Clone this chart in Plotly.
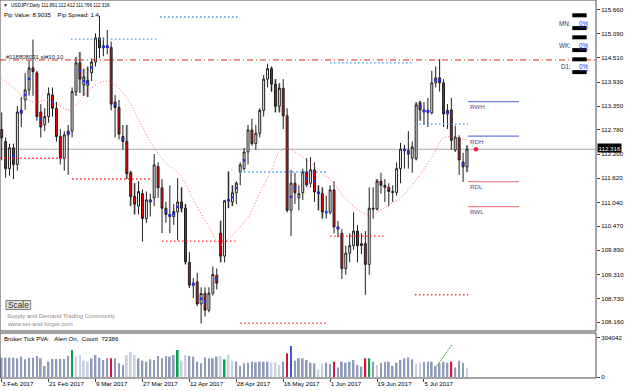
import plotly.graph_objects as go
import pandas as pd

# ---------------- data ----------------
dates = pd.bdate_range("2017-02-03", periods=120)

o = [112.79, 112.50, 111.85, 112.35, 111.95, 113.25, 113.50, 113.74, 114.27, 114.15,
     113.21, 112.90, 113.10, 113.62, 113.30, 112.62, 112.10, 112.66, 112.75, 113.70,
     114.39, 113.86, 113.85, 114.15, 114.41, 114.99, 114.75, 114.80, 114.76, 113.45,
     113.32, 112.62, 112.50, 111.75, 111.18, 110.95, 111.25, 110.65, 111.10, 111.15,
     111.90, 111.39, 110.90, 110.75, 110.70, 110.81, 111.05, 110.90, 109.60, 109.05,
     109.13, 108.60, 108.86, 108.45, 108.86, 109.29, 110.30, 109.75, 111.08, 111.05,
     111.27, 111.77, 111.85, 112.25, 112.78, 112.45, 112.70, 113.25, 114.00, 114.25,
     113.88, 113.35, 113.78, 113.12, 110.85, 111.50, 111.15, 111.27, 111.77, 111.50,
     111.82, 111.29, 111.25, 110.81, 110.80, 111.34, 110.45, 110.30, 109.45, 109.82,
     110.00, 110.35, 110.00, 110.05, 109.55, 110.90, 110.88, 111.55, 111.45, 111.40,
     111.30, 111.28, 111.85, 112.32, 112.28, 112.10, 112.10, 113.43, 113.26, 113.20,
     113.19, 113.91, 114.03, 113.91, 113.16, 113.26, 112.30, 112.59, 112.01, 111.891]
h = [113.20, 112.60, 112.45, 112.45, 113.35, 113.57, 114.15, 114.45, 114.95, 114.20,
     113.40, 113.30, 113.80, 113.80, 113.45, 112.80, 112.75, 112.90, 113.80, 114.53,
     114.65, 114.25, 114.30, 114.50, 115.10, 115.52, 115.00, 115.18, 114.90, 113.62,
     113.50, 112.90, 112.90, 111.80, 111.50, 111.55, 111.35, 111.30, 111.25, 112.20,
     112.00, 111.60, 111.05, 111.45, 111.00, 111.62, 111.40, 111.00, 109.85, 109.22,
     109.35, 109.00, 109.00, 109.00, 109.50, 109.45, 110.60, 111.10, 111.78, 111.45,
     111.55, 112.00, 112.35, 112.90, 113.05, 112.90, 113.30, 114.10, 114.37, 114.30,
     114.00, 113.90, 114.00, 113.30, 111.82, 111.75, 111.45, 111.85, 112.10, 112.13,
     112.00, 111.45, 111.40, 111.20, 111.45, 111.55, 110.60, 110.40, 110.00, 110.30,
     110.80, 110.50, 110.30, 110.35, 111.40, 111.40, 111.60, 111.75, 111.60, 111.50,
     111.45, 112.00, 112.47, 112.42, 112.75, 112.50, 113.45, 113.48, 113.45, 113.55,
     114.20, 114.30, 114.48, 114.00, 113.40, 113.55, 112.88, 112.65, 112.23, 112.412]
l = [112.05, 111.63, 111.68, 111.60, 111.80, 112.85, 113.26, 113.60, 113.60, 113.00,
     112.60, 112.75, 112.95, 113.10, 112.50, 111.95, 111.80, 111.70, 112.60, 113.60,
     113.67, 113.60, 113.57, 113.95, 114.30, 114.50, 114.55, 114.60, 113.25, 112.60,
     112.55, 112.30, 111.60, 110.95, 110.75, 110.75, 110.10, 110.55, 110.70, 110.95,
     111.15, 110.30, 110.55, 110.30, 110.50, 110.13, 110.80, 109.55, 108.98, 108.74,
     108.55, 108.13, 108.30, 108.40, 108.80, 108.95, 109.60, 109.60, 110.90, 110.95,
     111.00, 111.45, 111.80, 111.95, 112.40, 112.30, 112.60, 113.10, 113.80, 113.70,
     113.20, 113.20, 112.80, 110.80, 110.23, 111.00, 110.85, 111.10, 111.40, 111.40,
     111.05, 110.85, 110.65, 110.65, 110.75, 110.30, 110.20, 109.20, 109.30, 109.60,
     109.90, 109.60, 109.80, 108.82, 109.30, 110.65, 110.85, 111.25, 111.05, 110.95,
     111.05, 111.20, 111.50, 111.85, 111.85, 111.75, 112.05, 113.00, 112.90, 112.85,
     113.15, 113.80, 113.70, 112.85, 112.80, 112.30, 112.25, 111.70, 111.53, 111.766]
c = [112.59, 111.85, 112.35, 111.95, 113.21, 113.18, 113.74, 114.27, 114.18, 113.10,
     112.85, 113.10, 113.65, 113.30, 112.62, 112.10, 112.66, 112.75, 113.70, 114.39,
     114.00, 114.05, 113.97, 114.41, 114.99, 114.75, 114.80, 114.76, 113.40, 113.32,
     112.68, 112.50, 111.73, 111.18, 111.00, 111.30, 110.65, 111.10, 111.05, 111.94,
     111.39, 110.90, 110.75, 110.70, 110.82, 111.05, 110.90, 109.62, 109.05, 109.10,
     108.60, 108.85, 108.45, 108.86, 109.31, 109.10, 109.75, 111.08, 111.10, 111.27,
     111.50, 111.94, 112.25, 112.78, 112.45, 112.70, 113.25, 114.00, 114.25, 113.88,
     113.35, 113.78, 113.12, 110.85, 111.50, 111.27, 111.25, 111.77, 111.46, 111.82,
     111.29, 111.25, 110.81, 110.80, 111.34, 110.45, 110.40, 109.45, 109.82, 110.00,
     110.35, 110.00, 110.05, 109.55, 110.90, 110.88, 111.55, 111.45, 111.40, 111.30,
     111.28, 111.85, 112.32, 112.28, 112.20, 112.37, 113.38, 113.26, 113.21, 113.25,
     113.91, 114.03, 113.91, 113.16, 113.25, 112.53, 112.61, 112.06, 111.89, 112.316]

volume = [149000, 149000, 149000, 149000, 144000, 157000, 136000, 149000, 149000, 162000,
          144000, 85000, 118000, 139000, 139000, 139000, 139000, 162000, 208000, 157000,
          169000, 126000, 118000, 144000, 169000, 149000, 131000, 144000, 144000, 144000,
          105000, 92000, 169000, 195000, 169000, 144000, 126000, 118000, 136000, 131000,
          162000, 144000, 162000, 157000, 169000, 208000, 126000, 169000, 162000, 157000,
          118000, 105000, 151000, 144000, 144000, 157000, 162000, 136000, 174000, 126000,
          118000, 85000, 105000, 110000, 118000, 113000, 118000, 118000, 118000, 113000,
          113000, 92000, 118000, 182000, 239000, 126000, 144000, 144000, 131000, 110000,
          105000, 59000, 105000, 110000, 100000, 118000, 74000, 118000, 110000, 118000,
          131000, 92000, 80000, 144000, 144000, 118000, 92000, 110000, 118000, 118000,
          85000, 110000, 131000, 144000, 151000, 136000, 105000, 110000, 118000, 118000,
          118000, 85000, 105000, 118000, 110000, 118000, 74000, 126000, 110000, 74000]
# PVA class per bar: n normal, l low, g climax up, r climax down, b rising
vol_class = "".join(("nnnnnnnnnnnnnnnnnn g llll nnnnn r nnn lll nnnnnnnnnn g ll nnnnnnnn l g ll "
                     "nnnnnnnnn lll n r b nnnnnn ll nn r nnnnnnn r g n l nnnnnnnnn ll nnnnnnn r nnn l").split())

dot_bars = [3, 5, 6, 7, 10, 13, 17, 20, 21, 22, 23, 26, 27, 29, 31, 38, 42, 43, 44, 45, 49, 51,
            52, 55, 58, 59, 60, 62, 74, 75, 78, 80, 81, 83, 86, 103, 104, 107, 108, 109, 111,
            112, 114, 118]

ma_bars = [0, 3, 8, 12, 17, 19, 22, 25, 27, 29, 32, 35, 39, 42, 46, 49, 53, 56, 59, 63, 66,
           69, 71, 73, 78, 84, 89, 94, 99, 102, 106, 110, 113, 115, 119]
ma_vals = [114.03, 113.79, 113.45, 113.50, 113.26, 113.38, 113.69, 113.91, 113.95, 113.86,
           113.55, 113.02, 112.35, 111.99, 111.65, 111.10, 110.45, 110.02, 110.26, 110.69,
           111.27, 111.82, 112.25, 112.33, 112.06, 111.58, 111.03, 110.74, 110.98, 111.15,
           111.58, 112.13, 112.59, 112.61, 112.54]

# supply / demand levels
lvl_from = [17.7, 40.5, 61.0, 84.0, 105.7, -0.4, 18.0, 41.0, 61.0, 84.0, 105.7]
lvl_to = [40.0, 60.4, 83.2, 105.2, 119.3, 17.0, 38.0, 60.0, 83.0, 98.0, 119.3]
lvl_price = [114.96, 115.49, 111.77, 114.39, 112.92, 112.10, 111.60, 110.11, 108.14, 110.23, 108.82]
lvl_kind = ["hi", "hi", "hi", "hi", "hi", "lo", "lo", "lo", "lo", "lo", "lo"]

price_ticks = [115.660, 115.090, 114.510, 113.930, 113.350, 112.780, 112.200, 111.620,
               111.040, 110.470, 109.890, 109.310, 108.730, 108.160]
vol_ticks = [0, 304042]

order_price = 114.46
order_text = "#118808031 sl#10.10"
rng_names = ["RWH", "RDH", "RDL", "RWL"]
rng_vals = [113.46, 112.63, 111.54, 110.94]
vol_trend_bars = [111.3, 115.1]
vol_trend_vals = [84700, 246300]

title_text = "USDJPY,Daily 111.891 112.412 111.766 112.316"
pip_text = "Pip Value: 8.9035    Pip Spread: 1.4"
pva_text = "Broker Tick PVA:   Alert On,  Count  72386"
tf_names = ["MN:", "WK:", "D1:"]
tf_pct = ["0%", "0%", "0%"]

# ---------------- geometry ----------------
FONT = "Liberation Sans, Arial, sans-serif"
W, H = 625, 391
ML, MR, MT, MB = 0, 29, 0, 13
PW, PH = W - ML - MR, H - MT - MB
BAR0, BARW = 1.7, 3.91
n = len(c)
bars = list(range(n))


def fx(x):
    return x / PW


def fy(y):
    return (PH - y) / PH


def note(text, x, y, size=6.2, color="#000000", xanchor="left", **kw):
    return dict(text=text, x=fx(x), y=fy(y), xref="paper", yref="paper", xanchor=xanchor,
                yanchor="middle", showarrow=False, borderpad=0,
                font=dict(family=FONT, size=size, color=color), **kw)


fig = go.Figure()

# low-activity (PVA) bars drawn as light range bars behind candles
ghost = [i for i in bars if vol_class[i] == "l"]
fig.add_trace(go.Bar(x=ghost, base=[l[i] for i in ghost], y=[h[i] - l[i] for i in ghost],
                     width=0.75, marker=dict(color="#cdcdcd", line=dict(width=0)),
                     xaxis="x", yaxis="y", hoverinfo="skip"))

fig.add_trace(go.Candlestick(
    x=bars, open=o, high=h, low=l, close=c, xaxis="x", yaxis="y", whiskerwidth=0,
    increasing=dict(line=dict(color="#1e1e1e", width=1), fillcolor="#ffffff"),
    decreasing=dict(line=dict(color="#1e1e1e", width=1), fillcolor="#ff0000"),
    hoverinfo="skip"))

vol_colors = {"n": "#8e9cb7", "l": "#c8d1e1", "g": "#00a24c", "r": "#d4143c", "b": "#3b5bd9"}
fig.add_trace(go.Bar(x=bars, y=volume, width=0.45,
                     marker=dict(color=[vol_colors[k] for k in vol_class], line=dict(width=0)),
                     xaxis="x", yaxis="y2", hoverinfo="skip"))

fig.add_trace(go.Scatter(x=vol_trend_bars, y=vol_trend_vals, mode="lines", xaxis="x", yaxis="y2",
                         line=dict(color="#3aa03a", width=1, dash="2px,1px")))

fig.add_trace(go.Scatter(x=ma_bars, y=ma_vals, mode="lines", xaxis="x", yaxis="y",
                         line=dict(color="#ff6a6a", width=1, dash="1px,2px", shape="spline")))

for a, b, p, k in zip(lvl_from, lvl_to, lvl_price, lvl_kind):
    fig.add_trace(go.Scatter(x=[a, b], y=[p, p], mode="lines", xaxis="x", yaxis="y",
                             line=dict(color="#3d9bff" if k == "hi" else "#ff2a2a", width=1.4,
                                       dash="1.5px,2.5px")))

fig.add_trace(go.Scatter(x=dot_bars, y=[(o[i] + c[i]) / 2 for i in dot_bars], mode="markers",
                         xaxis="x", yaxis="y",
                         marker=dict(symbol="square", size=2.4, color="#1f2dff", line=dict(width=0))))

for name, v in zip(rng_names, rng_vals):
    col = "#6b7fe6" if name in ("RWH", "RDH") else "#f08a8a"
    fig.add_trace(go.Scatter(x=[n - 1 + 0.2, n - 1 + 13.3], y=[v, v], mode="lines",
                             xaxis="x", yaxis="y", line=dict(color=col, width=1.3)))

fig.add_trace(go.Scatter(x=[n + 1.3], y=[c[-1]], mode="markers", xaxis="x", yaxis="y",
                         marker=dict(size=4.5, color="#e8204a")))

shapes = []
# panel frames
shapes.append(dict(type="rect", xref="paper", yref="paper", x0=0, x1=1, y0=fy(331), y1=1,
                   line=dict(color="#4a4a4a", width=1)))
shapes.append(dict(type="rect", xref="paper", yref="paper", x0=0, x1=1, y0=0, y1=fy(333),
                   line=dict(color="#4a4a4a", width=1)))
# current price line and order line
shapes.append(dict(type="line", xref="paper", yref="y", x0=0, x1=1, y0=c[-1], y1=c[-1],
                   line=dict(color="#a6a6a6", width=1), layer="below"))
shapes.append(dict(type="line", xref="paper", yref="y", x0=0, x1=1, y0=order_price,
                   y1=order_price, line=dict(color="#dd2a1a", width=1, dash="6px,3px,1px,3px")))
# MN / WK / D1 blocks
for k in range(3):
    top = 13.3 + 22 * k
    shapes.append(dict(type="rect", xref="paper", yref="paper", x0=fx(572.3), x1=fx(586.7),
                       y0=fy(top + 4), y1=fy(top), fillcolor="#000000", line=dict(width=0)))
    shapes.append(dict(type="rect", xref="paper", yref="paper", x0=fx(572.3), x1=fx(586.7),
                       y0=fy(top + 16.8), y1=fy(top + 12.8), fillcolor="#000000",
                       line=dict(width=0)))
# Scale button
shapes.append(dict(type="rect", xref="paper", yref="paper", x0=fx(6), x1=fx(30.7), y0=fy(309.5),
                   y1=fy(300.5), fillcolor="#e2e2e2", line=dict(color="#7a7a7a", width=1)))

ann = []
ann.append(note("\u25bc", 2, 5.5, size=5, color="#202020"))
ann.append(note(title_text, 9.5, 5.5, size=4.6))
ann.append(note(pip_text, 3, 14.5, size=6.0))
ann.append(note(order_text, 5, 57, size=6.0, color="#1a1a1a"))
for k in range(3):
    yy = 23.3 + 22 * k - (0.6 if k == 2 else 0)
    ann.append(note(tf_names[k], 571.5, yy, size=6.3, color="#3a3a5a", xanchor="right"))
    ann.append(note("<u>" + tf_pct[k] + "</u>", 577.5, yy, size=6.3, color="#2b2bff"))
ann.append(note("Scale", 18.4, 305, size=8.3, color="#303030", xanchor="center"))
ann.append(note("Supply and Demand Trading Community", 6, 316.3, size=6.0, color="#8a8a8a"))
ann.append(note("www.set-and-forget.com", 6, 323.5, size=6.0, color="#8a8a8a"))
ann.append(note(pva_text, 3, 338, size=6.1))
for name, v in zip(rng_names, rng_vals):
    ann.append(dict(text=name, x=n - 1 + 0.6, y=v, xref="x", yref="y", xanchor="left",
                    yanchor="top", yshift=-0.5, showarrow=False, borderpad=0,
                    font=dict(family=FONT, size=6.2, color="#4a4a8a")))
ann.append(dict(text="112.316", x=1, y=c[-1], xref="paper", yref="y", xanchor="left",
                yanchor="middle", xshift=1, yshift=1, showarrow=False, bgcolor="#000000",
                borderpad=0.5, font=dict(family=FONT, size=6.2, color="#ffffff")))

tick_bars = bars[::12]
tick_text = [f"{dates[i].day} {dates[i].strftime('%b')} {dates[i].year}" for i in tick_bars]

axfont = dict(family=FONT, size=6.2, color="#000000")
fig.update_layout(
    width=W, height=H, margin=dict(l=ML, r=MR, t=MT, b=MB),
    paper_bgcolor="#ffffff", plot_bgcolor="#ffffff", showlegend=False,
    barmode="overlay", hovermode=False, shapes=shapes, annotations=ann,
    xaxis=dict(range=[(0 - BAR0) / BARW, (PW - BAR0) / BARW], anchor="y2", showgrid=False,
               zeroline=False, tickvals=tick_bars, ticktext=tick_text, ticks="outside",
               ticklen=3, tickcolor="#404040", tickfont=axfont,
               ticklabelposition="outside right", rangeslider=dict(visible=False)),
    yaxis=dict(domain=[fy(331), 1], range=[107.951, 115.900], side="right", showgrid=False,
               zeroline=False, tickvals=price_ticks,
               ticktext=[f"{v:.3f}" for v in price_ticks], ticks="outside", ticklen=3,
               tickcolor="#404040", tickfont=axfont),
    yaxis2=dict(domain=[0, fy(333)], range=[-7697, 338680], side="right", showgrid=False,
                zeroline=False, tickvals=vol_ticks, ticktext=[str(v) for v in vol_ticks],
                ticks="outside", ticklen=3, tickcolor="#404040", tickfont=axfont),
)

fig.write_html("out.html")
